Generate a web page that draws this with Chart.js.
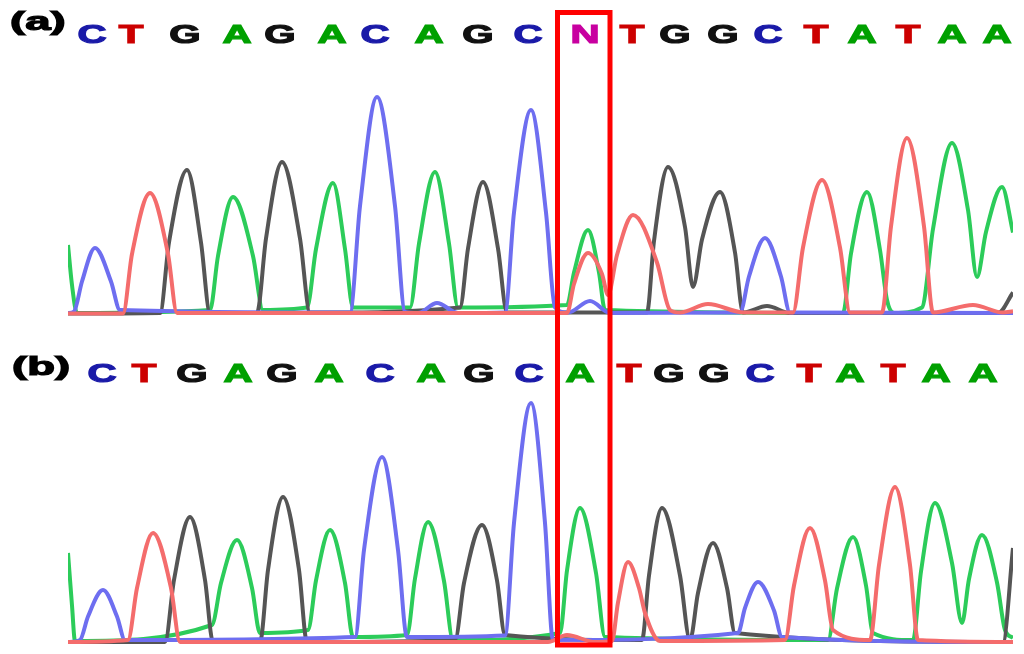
<!DOCTYPE html>
<html>
<head>
<meta charset="utf-8">
<script src="https://cdn.jsdelivr.net/npm/chart.js@4.4.1/dist/chart.umd.min.js"></script>
<style>
  html, body { margin: 0; padding: 0; background: #fff; }
  #wrap { position: relative; width: 1024px; height: 654px; }
  #wrap canvas { position: absolute; left: 0; }
  #chart-a { top: 0; }
  #chart-b { top: 335px; }
</style>
</head>
<body>
<div id="wrap">
  <canvas id="chart-a" width="1024" height="335"></canvas>
  <canvas id="chart-b" width="1024" height="319"></canvas>
</div>
<script>
// base calls and where they sit on the scan axis
const seqA = 'CTGAGACAGCNTGGCTATAA'.split('');
const seqB = 'CTGAGACAGCATGGCTATAA'.split('');
const posA = [24, 63, 117, 169, 212, 264, 307, 361, 410, 460, 517, 564, 607, 655, 700, 748, 794, 840, 884, 929];
const posB = [34, 76, 124, 170, 214, 261, 312, 363, 411, 461, 512, 561, 601, 646, 692, 741, 782, 825, 868, 915];
const boxScan = [489.5, 542];   // the boxed base (N / A)

// trace points [scan, signal], panel (a)
const aGreen = [[0,280],[4,120],[9,8],[142,20],[150,236],[165,472],[185,236],[195,20],[239,30],[248,264],[265,528],[277,264],[285,30],[342,30],[351,286],[367,572],[381,286],[390,30],[499,40],[506,170],[520,340],[531,170],[537,20],[775,8],[783,246],[799,492],[812,260],[819,60],[826,8],[854,30],[865,344],[884,688],[900,420],[909,152],[918,332],[934,512],[945,330]];
const aRed   = [[0,6],[55,6],[64,244],[82,488],[100,244],[109,8],[499,8],[506,124],[520,248],[534,164],[540,80],[549,240],[565,400],[589,210],[602,20],[612,10],[640,44],[676,10],[725,10],[735,270],[754,540],[772,270],[782,10],[814,10],[823,354],[839,708],[856,354],[865,10],[905,40],[935,10],[945,15]];
const aBlue  = [[0,8],[6,14],[14,134],[27,268],[43,134],[52,20],[282,10],[292,436],[309,872],[327,436],[337,12],[350,8],[369,48],[390,8],[437,10],[446,410],[463,820],[478,410],[487,30],[500,10],[522,56],[542,8],[672,10],[681,154],[697,308],[713,154],[722,10],[945,8]];
const aBlack = [[0,6],[92,8],[101,290],[119,580],[133,290],[142,8],[189,8],[198,306],[214,612],[232,306],[242,10],[392,30],[400,266],[415,532],[430,266],[439,10],[579,10],[586,296],[600,592],[617,352],[625,112],[634,302],[652,492],[667,250],[675,10],[699,36],[722,8],[930,8],[945,90]];

// panel (b)
const bGreen = [[0,360],[4,150],[7,8],[144,72],[153,240],[169,412],[184,220],[192,40],[240,52],[248,250],[262,452],[277,240],[285,24],[339,32],[347,258],[360,484],[376,248],[385,12],[492,40],[499,290],[512,540],[528,280],[537,24],[760,12],[769,218],[785,424],[798,230],[805,40],[845,12],[853,286],[867,560],[884,320],[894,80],[901,256],[914,432],[929,242],[937,52],[945,20]];
const bRed   = [[0,4],[60,12],[69,220],[85,440],[103,220],[112,4],[480,4],[499,32],[527,4],[544,8],[550,162],[560,324],[571,220],[577,120],[592,8],[717,12],[726,230],[742,460],[757,250],[765,52],[802,12],[811,312],[827,624],[842,312],[850,12],[945,4]];
const bBlue  = [[0,4],[12,12],[20,106],[35,212],[49,106],[57,12],[287,24],[296,372],[314,744],[330,372],[339,24],[437,30],[446,480],[463,960],[477,480],[485,12],[670,40],[677,140],[690,244],[706,130],[714,24],[945,4]];
const bBlack = [[0,4],[97,4],[106,252],[122,504],[137,252],[145,4],[192,4],[200,292],[215,584],[231,292],[239,4],[387,12],[396,240],[414,472],[429,250],[437,32],[574,12],[581,270],[594,540],[612,270],[622,12],[630,200],[645,400],[659,220],[667,40],[935,4],[945,380]];

const baseColors = { A: '#00a000', C: '#1a1aa8', G: '#111111', T: '#cc0000', N: '#c800a0' };
const traceColors = { green: '#2ccc5a', red: '#f46c6c', blue: '#6e6ef0', black: '#555555' };

function toXY(arr) {
    return arr.map(p => ({ x: p[0], y: p[1] }));
}

function trace(data, color) {
    return {
        data: toXY(data),
        borderColor: color,
        borderWidth: 4,
        pointRadius: 0,
        fill: false,
        cubicInterpolationMode: 'monotone'
    };
}

// draws the called bases, the panel label and the red box
function makeSeqPlugin(cfg) {
    return {
        id: 'seq' + cfg.label,
        afterDatasetsDraw(chart) {
            const ctx = chart.ctx;
            const xs = chart.scales.x;
            ctx.save();
            ctx.font = 'bold 26px "Liberation Sans", Arial, sans-serif';
            ctx.textBaseline = 'alphabetic';
            ctx.textAlign = 'center';
            ctx.lineWidth = 1.2;
            cfg.bases.forEach((b, i) => {
                ctx.save();
                ctx.translate(xs.getPixelForValue(cfg.pos[i]), cfg.baseY);
                ctx.scale(1.55, 1);
                ctx.fillStyle = baseColors[b];
                ctx.strokeStyle = baseColors[b];
                ctx.fillText(b, 0, 0);
                ctx.strokeText(b, 0, 0);
                ctx.restore();
            });

            ctx.save();
            ctx.translate(cfg.labelX, cfg.labelY);
            ctx.scale(1.75, 1);
            ctx.textAlign = 'left';
            ctx.fillStyle = '#000';
            ctx.strokeStyle = '#000';
            ctx.fillText(cfg.label, 0, 0);
            ctx.strokeText(cfg.label, 0, 0);
            ctx.restore();

            const x1 = xs.getPixelForValue(boxScan[0]);
            const x2 = xs.getPixelForValue(boxScan[1]);
            ctx.strokeStyle = '#ff0000';
            ctx.lineWidth = 5;
            ctx.strokeRect(x1, cfg.boxTop, x2 - x1, cfg.boxBottom - cfg.boxTop);
            ctx.restore();
        }
    };
}

function makeChart(id, sets, yMax, pad, plugin) {
    return new Chart(document.getElementById(id), {
        type: 'line',
        data: {
            datasets: [
                trace(sets.red, traceColors.red),
                trace(sets.blue, traceColors.blue),
                trace(sets.black, traceColors.black),
                trace(sets.green, traceColors.green)
            ]
        },
        options: {
            responsive: false,
            animation: false,
            layout: { padding: pad },
            scales: {
                x: { type: 'linear', min: 0, max: 945, display: false },
                y: { type: 'linear', min: -20, max: yMax, display: false }
            },
            plugins: {
                legend: { display: false },
                tooltip: { enabled: false }
            }
        },
        plugins: [plugin]
    });
}

makeChart('chart-a',
    { green: aGreen, red: aRed, blue: aBlue, black: aBlack },
    1020,
    { top: 60, bottom: 15, left: 68, right: 11 },
    makeSeqPlugin({ bases: seqA, pos: posA, baseY: 43, label: '(a)', labelX: 10, labelY: 30, boxTop: 12.5, boxBottom: 500 })
);

makeChart('chart-b',
    { green: bGreen, red: bRed, blue: bBlue, black: bBlack },
    992,
    { top: 60, bottom: 6, left: 68, right: 11 },
    makeSeqPlugin({ bases: seqB, pos: posB, baseY: 47, label: '(b)', labelX: 12, labelY: 40, boxTop: -50, boxBottom: 310 })
);
</script>
</body>
</html>
